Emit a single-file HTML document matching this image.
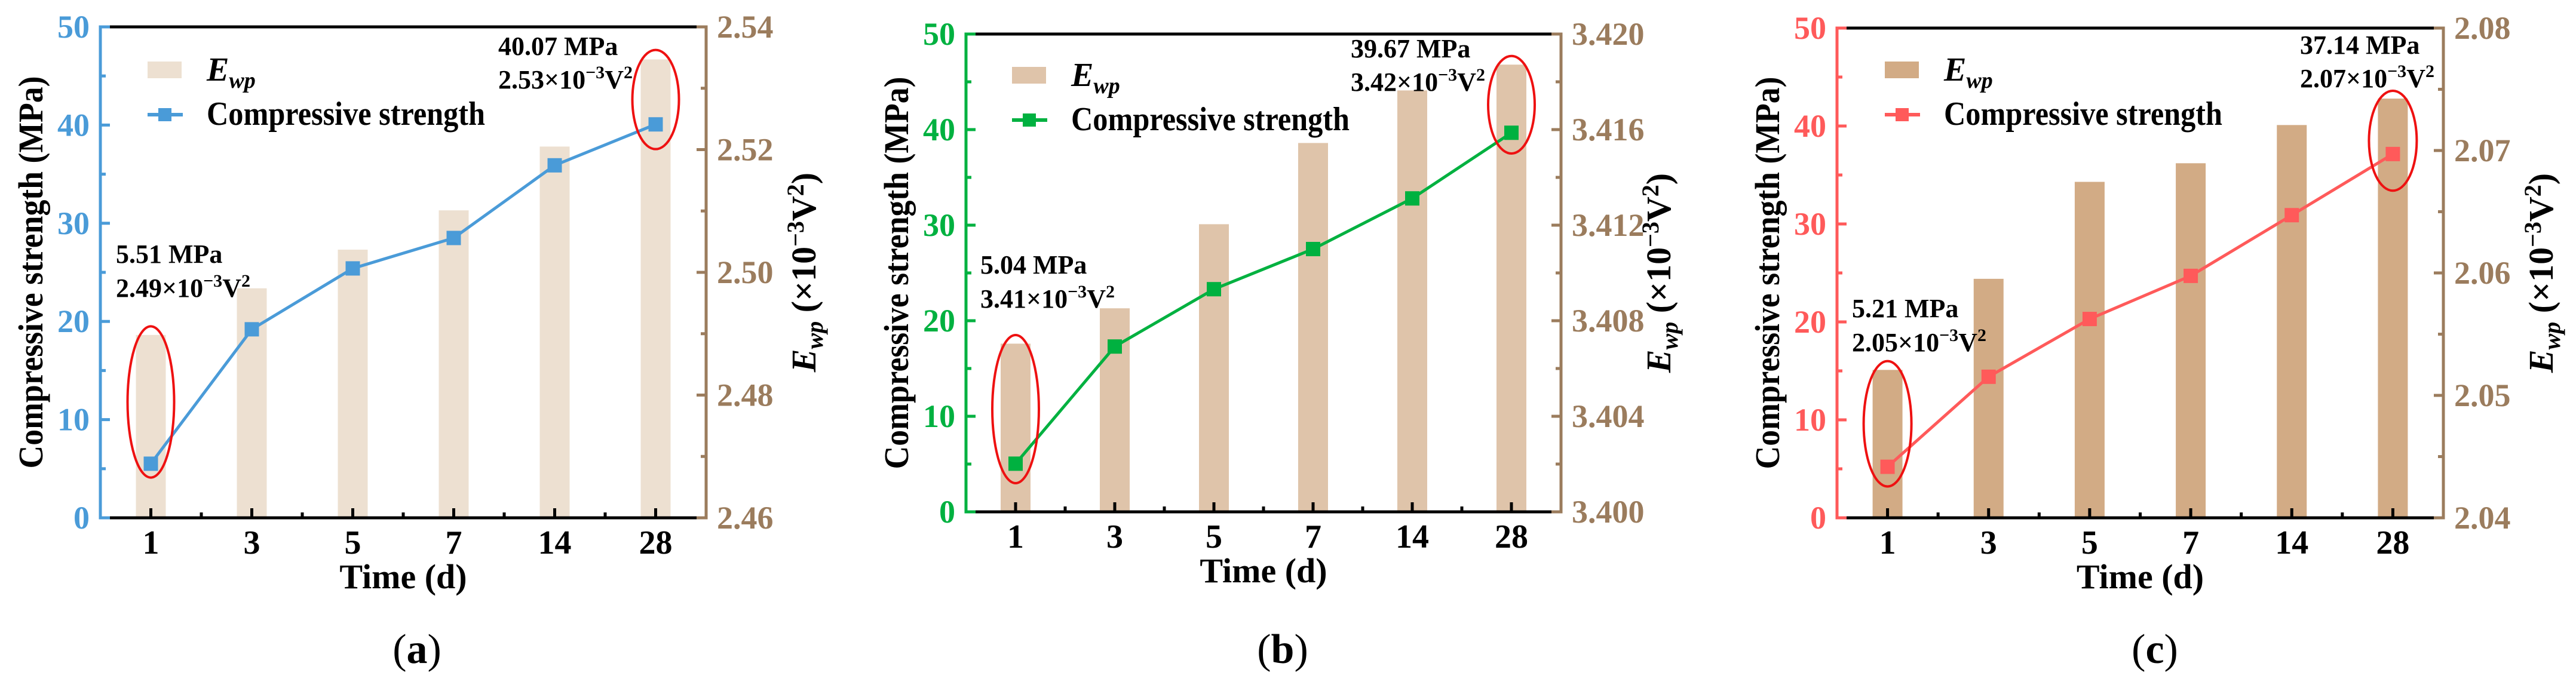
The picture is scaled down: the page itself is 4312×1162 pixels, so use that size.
<!DOCTYPE html>
<html><head><meta charset="utf-8">
<style>
html,body{margin:0;padding:0;background:#fff;}
svg, svg text, svg tspan{font-family:"Liberation Serif","Times New Roman",serif;}
</style></head>
<body>
<svg id="fig" xmlns="http://www.w3.org/2000/svg" width="4312" height="1157" viewBox="0 0 4312 1157" font-family="Liberation Serif, serif"></svg>
<script>
const categories = ["1","3","5","7","14","28"];
const strengthA = [5.51, 19.2, 25.4, 28.5, 35.9, 40.07];
const ewpA = [2.4898, 2.4974, 2.5037, 2.5101, 2.5205, 2.5347];
const strengthB = [5.04, 17.3, 23.3, 27.5, 32.8, 39.67];
const ewpB = [3.40704, 3.40852, 3.41204, 3.41544, 3.41764, 3.41872];
const strengthC = [5.21, 14.4, 20.3, 24.7, 30.9, 37.14];
const ewpC = [2.05208, 2.05952, 2.06744, 2.06896, 2.07208, 2.07424];
const leftTicks = [0, 10, 20, 30, 40, 50];
const rightTicksA = ["2.46","2.48","2.50","2.52","2.54"];
const rightTicksB = ["3.400","3.404","3.408","3.412","3.416","3.420"];
const rightTicksC = ["2.04","2.05","2.06","2.07","2.08"];
const annoA = ["5.51 MPa","2.49","40.07 MPa","2.53"];
const annoB = ["5.04 MPa","3.41","39.67 MPa","3.42"];
const annoC = ["5.21 MPa","2.05","37.14 MPa","2.07"];

const NS = "http://www.w3.org/2000/svg";
const svg = document.getElementById('fig');
const FF = "Liberation Serif, serif";
function mk(tag, attrs, parent){
  const e = document.createElementNS(NS, tag);
  for (const k in attrs) e.setAttribute(k, attrs[k]);
  if (tag === 'text') e.setAttribute('font-family', FF);
  (parent||svg).appendChild(e);
  return e;
}
const BROWN = "#9b7c5d";

const panels = [
  {id:"a", L:168, R:1182, T:45, B:867, col:"#4a9bd8", bar:"#ede0d1",
   s:strengthA, e:ewpA, rt:rightTicksA, anno:annoA,
   e1:{v:11.8, ry:7.7, rx:39}, e2:{v:42.6, ry:5.05, rx:39},
   a1:{x:194, y:440}, a2:{x:834, y:92}, leg:{x:247, y:103}, lab:{x:698,y:1110}},
  {id:"b", L:1617, R:2613, T:57, B:857, col:"#00b140", bar:"#dfc4aa",
   s:strengthB, e:ewpB, rt:rightTicksB, anno:annoB,
   e1:{v:10.75, ry:7.75, rx:39}, e2:{v:42.6, ry:5.1, rx:39},
   a1:{x:1641, y:458}, a2:{x:2261, y:96}, leg:{x:1694, y:112}, lab:{x:2147,y:1110}},
  {id:"c", L:3075, R:4090, T:47, B:867, col:"#ff5a5a", bar:"#d2ab85",
   s:strengthC, e:ewpC, rt:rightTicksC, anno:annoC,
   e1:{v:9.6, ry:6.4, rx:40}, e2:{v:38.5, ry:5.1, rx:40},
   a1:{x:3100, y:531}, a2:{x:3850, y:90}, leg:{x:3155, y:103}, lab:{x:3607,y:1110}}
];

function sciText(g, x, y, num, name){
  const t = mk('text', {x:x, y:y, 'font-size':44, 'font-weight':'bold', fill:'#000'}, g);
  
  
  t.appendChild(document.createTextNode(num + "×10"));
  const s1 = mk('tspan', {dy:-17, 'font-size':30}, t); s1.textContent = "−3";
  const s2 = mk('tspan', {dy:17}, t); s2.textContent = "V";
  const s3 = mk('tspan', {dy:-17, 'font-size':30}, t); s3.textContent = "2";
  return t;
}

panels.forEach(p => {
  const g = mk('g', {});
  
  
  const W = p.R - p.L, H = p.B - p.T;
  const band = W / categories.length;
  const xS = i => p.L + band * (i + 0.5);
  const yL = v => p.B - (v / 50) * H;
  const rmin = parseFloat(p.rt[0]), rmax = parseFloat(p.rt[p.rt.length-1]);
  const yR = v => p.B - (v - rmin) / (rmax - rmin) * H;

  p.e.forEach((v, i) => {
    const y = yR(v);
    const r = mk('rect', {x:xS(i)-25, y:y, width:50, height:p.B-y, fill:p.bar}, g);
    
    
  });
  const pts = p.s.map((v, i) => xS(i) + "," + yL(v)).join(" ");
  const pl = mk('polyline', {points:pts, fill:'none', stroke:p.col, 'stroke-width':5}, g);
  
  
  p.s.forEach((v, i) => {
    const m = mk('rect', {x:xS(i)-12, y:yL(v)-12, width:24, height:24, fill:p.col}, g);
    
    
  });
  [[0, p.e1], [5, p.e2]].forEach(([i, el], k) => {
    const cy = yL(el.v), ry = el.ry / 50 * H;
    const e = mk('ellipse', {cx:xS(i), cy:cy, rx:el.rx, ry:ry, fill:'none', stroke:'#ee1111', 'stroke-width':4}, g);
    
    
  });
  const ax = mk('g', {}, g);
  
  
  mk('line', {x1:p.L, y1:p.T, x2:p.R, y2:p.T, stroke:'#000', 'stroke-width':5}, ax);
  mk('line', {x1:p.L, y1:p.B, x2:p.R, y2:p.B, stroke:'#000', 'stroke-width':5}, ax);
  mk('line', {x1:p.L, y1:p.T-2.5, x2:p.L, y2:p.B+2.5, stroke:p.col, 'stroke-width':5}, ax);
  mk('line', {x1:p.L, y1:p.T, x2:p.L+16, y2:p.T, stroke:p.col, 'stroke-width':5}, ax);
  mk('line', {x1:p.L, y1:p.B, x2:p.L+16, y2:p.B, stroke:p.col, 'stroke-width':5}, ax);
  mk('line', {x1:p.R, y1:p.T-2.5, x2:p.R, y2:p.B+2.5, stroke:BROWN, 'stroke-width':5}, ax);
  mk('line', {x1:p.R-16, y1:p.T, x2:p.R, y2:p.T, stroke:BROWN, 'stroke-width':5}, ax);
  mk('line', {x1:p.R-16, y1:p.B, x2:p.R, y2:p.B, stroke:BROWN, 'stroke-width':5}, ax);
  leftTicks.forEach(v => {
    const y = yL(v);
    mk('line', {x1:p.L, y1:y, x2:p.L+16, y2:y, stroke:p.col, 'stroke-width':5}, ax);
    const t = mk('text', {x:p.L-18, y:y+18, 'text-anchor':'end', 'font-size':54, 'font-weight':'bold', fill:p.col}, ax);
    
    
    t.textContent = v;
    if (v < 50) mk('line', {x1:p.L, y1:yL(v+5), x2:p.L+9, y2:yL(v+5), stroke:p.col, 'stroke-width':5}, ax);
  });
  p.rt.forEach((lab, k) => {
    const y = p.B - k / (p.rt.length-1) * H;
    mk('line', {x1:p.R-16, y1:y, x2:p.R, y2:y, stroke:BROWN, 'stroke-width':5}, ax);
    const t = mk('text', {x:p.R+18, y:y+18, 'font-size':54, 'font-weight':'bold', fill:BROWN}, ax);
    
    
    t.textContent = lab;
    if (k < p.rt.length-1) {
      const ym = y - H / (p.rt.length-1) / 2;
      mk('line', {x1:p.R-9, y1:ym, x2:p.R, y2:ym, stroke:BROWN, 'stroke-width':5}, ax);
    }
  });
  categories.forEach((c, i) => {
    const x = xS(i);
    mk('line', {x1:x, y1:p.B, x2:x, y2:p.B-16, stroke:'#000', 'stroke-width':5}, ax);
    if (i < categories.length-1) mk('line', {x1:x+band/2, y1:p.B, x2:x+band/2, y2:p.B-9, stroke:'#000', 'stroke-width':5}, ax);
    const t = mk('text', {x:x, y:p.B+60, 'text-anchor':'middle', 'font-size':56, 'font-weight':'bold', fill:'#000'}, ax);
    
    
    t.textContent = c;
  });
  const xt = mk('text', {x:(p.L+p.R)/2, y:p.B+118, 'text-anchor':'middle', 'font-size':58, 'font-weight':'bold', fill:'#000'}, g);
  
  
  xt.textContent = "Time (d)";
  const cy = (p.T + p.B) / 2;
  const yt = mk('text', {x:0, y:0, transform:`translate(${p.L-97},${cy}) rotate(-90)`, 'text-anchor':'middle', 'font-size':58, 'font-weight':'bold', fill:'#000', textLength:657, lengthAdjust:'spacingAndGlyphs'}, g);
  
  
  yt.textContent = "Compressive strength (MPa)";
  const rt = mk('text', {x:0, y:0, transform:`translate(${p.R+183},${cy}) rotate(-90)`, 'text-anchor':'middle', 'font-size':58, 'font-weight':'bold', fill:'#000'}, g);
  
  
  const e1 = mk('tspan', {'font-style':'italic'}, rt); e1.textContent = "E";
  const e2 = mk('tspan', {'font-style':'italic', 'font-size':40, dy:12}, rt); e2.textContent = "wp";
  const e3 = mk('tspan', {dy:-12}, rt); e3.textContent = " (×10";
  const e4 = mk('tspan', {dy:-20, 'font-size':40}, rt); e4.textContent = "−3";
  const e5 = mk('tspan', {dy:20}, rt); e5.textContent = "V";
  const e6 = mk('tspan', {dy:-20, 'font-size':40}, rt); e6.textContent = "2";
  const e7 = mk('tspan', {dy:20}, rt); e7.textContent = ")";
  const lg = mk('g', {}, g);
  
  
  const L = p.leg;
  mk('rect', {x:L.x, y:L.y, width:57, height:28, fill:p.bar}, lg);
  const l1 = mk('text', {x:L.x+99, y:L.y+32, 'font-size':56, 'font-weight':'bold', 'font-style':'italic', fill:'#000'}, lg);
  
  
  l1.appendChild(document.createTextNode("E"));
  const ls = mk('tspan', {'font-size':38, dy:12}, l1); ls.textContent = "wp";
  mk('line', {x1:L.x, y1:L.y+89, x2:L.x+59, y2:L.y+89, stroke:p.col, 'stroke-width':6}, lg);
  mk('rect', {x:L.x+18, y:L.y+78, width:22, height:22, fill:p.col}, lg);
  const l2 = mk('text', {x:L.x+99, y:L.y+106, 'font-size':56, 'font-weight':'bold', fill:'#000', textLength:466, lengthAdjust:'spacingAndGlyphs'}, lg);
  
  
  l2.textContent = "Compressive strength";
  const t1 = mk('text', {x:p.a1.x, y:p.a1.y, 'font-size':44, 'font-weight':'bold', fill:'#000'}, g);
  
  
  t1.textContent = p.anno[0];
  sciText(g, p.a1.x, p.a1.y+57, p.anno[1], 'annotation-start-ewp');
  const t2 = mk('text', {x:p.a2.x, y:p.a2.y, 'font-size':44, 'font-weight':'bold', fill:'#000'}, g);
  
  
  t2.textContent = p.anno[2];
  sciText(g, p.a2.x, p.a2.y+56, p.anno[3], 'annotation-end-ewp');
  const pl2 = mk('text', {x:p.lab.x, y:p.lab.y, 'text-anchor':'middle', 'font-size':70, fill:'#000'}, g);
  
  
  pl2.appendChild(document.createTextNode("("));
  const pb = mk('tspan', {'font-weight':'bold'}, pl2); pb.textContent = p.id;
  pl2.appendChild(document.createTextNode(")"));
});
</script>
</body></html>
